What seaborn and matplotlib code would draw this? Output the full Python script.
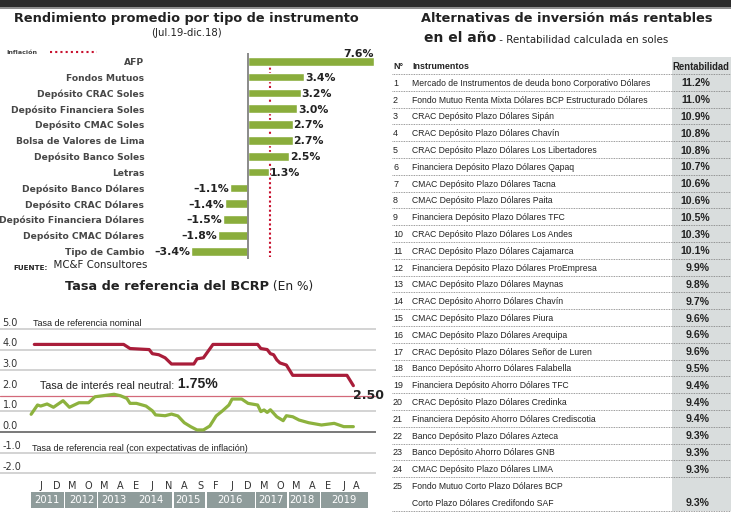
import numpy as np
import pandas as pd
import seaborn as sns
from matplotlib import pyplot as plt
from matplotlib import font_manager
from matplotlib.patches import Rectangle
from matplotlib.transforms import blended_transform_factory

# rendimiento promedio por tipo de instrumento (Jul.19-dic.18)
instrumentos = ['AFP', 'Fondos Mutuos', 'Depósito CRAC Soles', 'Depósito Financiera Soles',
                'Depósito CMAC Soles', 'Bolsa de Valores de Lima', 'Depósito Banco Soles',
                'Letras', 'Depósito Banco Dólares', 'Depósito CRAC Dólares',
                'Depósito Financiera Dólares', 'Depósito CMAC Dólares', 'Tipo de Cambio']
rendimiento = [7.6, 3.4, 3.2, 3.0, 2.7, 2.7, 2.5, 1.3, -1.1, -1.4, -1.5, -1.8, -3.4]
inflacion = 1.35

# tasa de referencia del BCRP, x = meses desde enero 2011
nominal_mes = [4, 32, 34, 40, 41, 43, 45, 47, 54, 55, 57, 60, 74, 75, 77, 78, 79, 80, 81,
               83, 84, 85, 102, 104]
nominal_tasa = [4.25, 4.25, 4.05, 4.0, 3.8, 3.75, 3.6, 3.3, 3.3, 3.55, 3.6, 4.25, 4.25,
                4.05, 4.0, 3.8, 3.75, 3.5, 3.35, 3.25, 3.0, 2.75, 2.75, 2.25]
real_mes = [3, 5, 6, 8, 10, 13, 15, 18, 21, 23, 25, 29, 31, 33, 34, 36, 39, 41, 42, 45, 47,
            49, 51, 53, 55, 57, 59, 61, 63, 65, 66, 69, 71, 74, 75, 76, 77, 78, 80, 82, 83,
            85, 87, 90, 94, 98, 101, 104]
real_tasa = [0.86, 1.31, 1.26, 1.36, 1.20, 1.52, 1.20, 1.42, 1.42, 1.71, 1.75, 1.83, 1.76,
             1.63, 1.39, 1.39, 1.26, 1.03, 0.83, 0.79, 0.87, 0.78, 0.45, 0.26, 0.10, 0.10,
             0.29, 0.78, 1.03, 1.31, 1.60, 1.60, 1.39, 1.31, 0.99, 1.07, 0.95, 1.08, 0.74,
             0.55, 0.79, 0.74, 0.58, 0.45, 0.34, 0.42, 0.26, 0.26]
tasa_neutral = 1.75
ultima_tasa = 2.50
eje_y = [5.0, 4.0, 3.0, 2.0, 1.0, 0.0, -1.0, -2.0]
tick_mes = [6, 11, 16, 21, 26, 31, 36, 41, 46, 51, 56, 61, 66, 71, 76, 81, 86, 91, 96, 101, 105]
tick_letras = ['J', 'D', 'M', 'O', 'M', 'A', 'E', 'J', 'N', 'A', 'S', 'F', 'J', 'D', 'M',
               'O', 'M', 'A', 'E', 'J', 'A']
anio_caja = [(2.9, 13.2), (13.6, 23.6), (23.9, 47.2), (47.7, 57.6), (58.0, 73.2),
             (73.6, 83.3), (83.8, 93.5), (93.9, 108.6)]
anios = ['2011', '2012', '2013', '2014', '2015', '2016', '2017', '2018', '2019']
anio_centro = [7.9, 18.9, 28.8, 40.5, 52.3, 65.3, 78.1, 87.8, 100.9]

# alternativas de inversion mas rentables en el año
ranking = list(range(1, 26))
alternativas = [
    'Mercado de Instrumentos de deuda bono Corporativo Dólares',
    'Fondo Mutuo Renta Mixta Dólares BCP Estructurado Dólares',
    'CRAC Depósito Plazo Dólares Sipán',
    'CRAC Depósito Plazo Dólares Chavín',
    'CRAC Depósito Plazo Dólares Los Libertadores',
    'Financiera Depósito Plazo Dólares Qapaq',
    'CMAC Depósito Plazo Dólares Tacna',
    'CMAC Depósito Plazo Dólares Paita',
    'Financiera Depósito Plazo Dólares TFC',
    'CRAC Depósito Plazo Dólares Los Andes',
    'CRAC Depósito Plazo Dólares Cajamarca',
    'Financiera Depósito Plazo Dólares ProEmpresa',
    'CMAC Depósito Plazo Dólares Maynas',
    'CRAC Depósito Ahorro Dólares Chavín',
    'CMAC Depósito Plazo Dólares Piura',
    'CMAC Depósito Plazo Dólares Arequipa',
    'CRAC Depósito Plazo Dólares Señor de Luren',
    'Banco Depósito Ahorro Dólares Falabella',
    'Financiera Depósito Ahorro Dólares TFC',
    'CRAC Depósito Plazo Dólares Credinka',
    'Financiera Depósito Ahorro Dólares Crediscotia',
    'Banco Depósito Plazo Dólares Azteca',
    'Banco Depósito Ahorro Dólares GNB',
    'CMAC Depósito Plazo Dólares LIMA',
    'Fondo Mutuo Corto Plazo Dólares BCP\nCorto Plazo Dólares Credifondo SAF',
]
rentabilidad = [11.2, 11.0, 10.9, 10.8, 10.8, 10.7, 10.6, 10.6, 10.5, 10.3, 10.1, 9.9, 9.8,
                9.7, 9.6, 9.6, 9.6, 9.5, 9.4, 9.4, 9.4, 9.3, 9.3, 9.3, 9.3]

GREEN = '#8aad3c'
RED = '#a91d3a'
INK = '#222222'

sns.set_theme(style='white')
plt.rcParams['font.family'] = ['DejaVu Sans']

installed = {f.name for f in font_manager.fontManager.ttflist}
if 'Liberation Sans Narrow' in installed:
    NARROW, NS = 'Liberation Sans Narrow', 1.0
else:
    NARROW, NS = 'Liberation Sans', 0.84

W, H = 731, 518
fig = plt.figure(figsize=(W / 100, H / 100), dpi=100)
fig.patch.set_facecolor('white')


def fbox(left, top, right, bottom):
    return [left / W, 1 - bottom / H, (right - left) / W, (bottom - top) / H]


# pixel overlay for frame, titles and the table
bg = fig.add_axes([0, 0, 1, 1], zorder=0)
bg.set_xlim(0, W)
bg.set_ylim(H, 0)
bg.axis('off')
bg.add_patch(Rectangle((0, 0), W, 6.7, color='#2b2b2b', lw=0))
bg.add_patch(Rectangle((0, 6.7), W, 2.6, color='#8e8e8e', lw=0))

# ---------------- rendimiento promedio ----------------
bg.text(186, 18.3, 'Rendimiento promedio por tipo de instrumento', ha='center', va='center',
        fontsize=9.3, fontweight='bold', color=INK)
bg.text(186.5, 33.3, '(Jul.19-dic.18)', ha='center', va='center', fontsize=7.3, color=INK)
bg.text(6, 52.3, 'Inflación', ha='left', va='center', fontsize=4.6, fontweight='bold',
        color='#444444')
bg.plot([50, 97], [52.3, 52.3], color='#c8102e', lw=1.5, ls=(0, (1, 1.5)))

ax1 = fig.add_axes(fbox(148.4, 53.4, 374.5, 259.2), zorder=1)
ax1.patch.set_alpha(0)
df_rend = pd.DataFrame({'instrumento': instrumentos, 'rendimiento': rendimiento})
sns.barplot(data=df_rend, x='rendimiento', y='instrumento', orient='h', color=GREEN,
            saturation=1, width=0.55, ax=ax1, zorder=2)
ax1.set_xlim(-6, 7.65)
ax1.set_ylim(12.5, -0.5)
ax1.set_xlabel('')
ax1.set_ylabel('')
ax1.set_xticks([])
ax1.tick_params(axis='y', length=0, pad=3, labelsize=6.6, labelcolor='#474747')
for lab in ax1.get_yticklabels():
    lab.set_fontweight('bold')
sns.despine(ax=ax1, left=True, bottom=True)
ax1.axvline(0, color='#8a8a8a', lw=1.4, zorder=3)
ax1.vlines(inflacion, 0.1, 12.35, colors='#c8102e', linestyles=(0, (1, 1.2)), lw=1.5,
           zorder=1)
for i, v in enumerate(rendimiento):
    txt = f'{v:.1f}%'.replace('-', '\u2013')
    if i == 0:
        ax1.text(v, i - 0.45, txt, ha='right', va='center', fontsize=7.8,
                 fontweight='bold', color=INK)
    elif v >= 0:
        ax1.text(v + 0.05, i + 0.05, txt, ha='left', va='center', fontsize=7.8,
                 fontweight='bold', color=INK)
    else:
        ax1.text(v - 0.05, i + 0.05, txt, ha='right', va='center', fontsize=7.8,
                 fontweight='bold', color=INK)

t = bg.text(13, 269.5, 'FUENTE:', ha='left', va='baseline', fontsize=5.2, fontweight='bold',
            color=INK)
bg.annotate('  MC&F Consultores', xy=(1, 0), xycoords=t, va='bottom', ha='left',
            fontsize=7.4, color=INK)

# ---------------- tasa de referencia BCRP ----------------
tt = bg.text(65, 286.7, 'Tasa de referencia del BCRP', ha='left', va='center', fontsize=9.3,
             fontweight='bold', color=INK)
bg.annotate(' (En %)', xy=(1, 0), xycoords=tt, va='bottom', ha='left', fontsize=8.8,
            color=INK)

ax2 = fig.add_axes(fbox(0, 316.6, 376, 479.4), zorder=1)
ax2.patch.set_alpha(0)
for v in [5, 4, 3, 1, -1, -2]:
    ax2.axhline(v, color='#c8c8c8', lw=1.1, zorder=0)
ax2.axhline(0, color='#6e6e6e', lw=1.3, zorder=0)
ax2.axhline(tasa_neutral, color='#d3697a', lw=0.9, zorder=0)
sns.lineplot(x=real_mes, y=real_tasa, color='#8db23e', lw=2.3, ax=ax2, zorder=2)
sns.lineplot(x=nominal_mes, y=nominal_tasa, color=RED, lw=2.3, ax=ax2, zorder=3)
ax2.set_xlim(-6.76, 111.1)
ax2.set_ylim(-2.3, 5.6)
sns.despine(ax=ax2, left=True, bottom=True)
ax2.set_yticks([])
ax2.set_xticks(tick_mes)
ax2.set_xticklabels(tick_letras)
ax2.tick_params(axis='x', length=0, pad=1.2, labelsize=7, labelcolor='#333333')

yax = blended_transform_factory(ax2.transAxes, ax2.transData)
for v in eje_y:
    ax2.text(0.007, v + 0.3, f'{v:.1f}', transform=yax, ha='left', va='center',
             fontsize=7, color='#333333')

ax2.text(3.7, 5.28, 'Tasa de referencia nominal', ha='left', va='center',
         family=NARROW, fontsize=7.7 * NS, color=INK)
tn = ax2.text(5.8, 2.23, 'Tasa de interés real neutral:', ha='left', va='center',
              family=NARROW, fontsize=9.2 * NS, color=INK)
ax2.annotate(f' {tasa_neutral:.2f}%', xy=(1, 0), xycoords=tn, ha='left', va='bottom',
             family=NARROW, fontsize=12 * NS, fontweight='bold', color=INK)
ax2.text(3.3, -0.79, 'Tasa de referencia real (con expectativas de inflación)', ha='left',
         va='center', family=NARROW, fontsize=7.7 * NS, color=INK)
ax2.text(nominal_mes[-1], tasa_neutral, f'{ultima_tasa:.2f}', ha='left', va='center',
         fontsize=9, fontweight='bold', color=INK, clip_on=False)

xax = blended_transform_factory(ax2.transData, ax2.transAxes)
for s, e in anio_caja:
    ax2.add_patch(Rectangle((s, -0.1775), e - s, 0.102, transform=xax, clip_on=False,
                            color='#8f9c9b', lw=0))
for c, a in zip(anio_centro, anios):
    ax2.text(c, -0.127, a, transform=xax, ha='center', va='center', fontsize=7.2,
             color='white')

# ---------------- alternativas de inversión ----------------
bg.text(567, 18.3, 'Alternativas de inversión más rentables', ha='center', va='center',
        fontsize=9.3, fontweight='bold', color=INK)
ta = bg.text(424, 38.3, 'en el año', ha='left', va='center', fontsize=10,
             fontweight='bold', color=INK)
bg.annotate(' - Rentabilidad calculada en soles', xy=(1, 0), xycoords=ta, ha='left',
            va='bottom', fontsize=7.4, color=INK)

bg.add_patch(Rectangle((672, 57), 59, 454, color='#d9dddd', lw=0))
dots = dict(color='#7a7a7a', lw=0.6, ls=(0, (1, 1)))
row_h = 16.8
bg.text(393, 66.7, 'N°', ha='left', va='center', family=NARROW, fontsize=7.6 * NS,
        fontweight='bold', color=INK)
bg.text(412, 66.7, 'Instrumentos', ha='left', va='center', family=NARROW,
        fontsize=7.6 * NS, fontweight='bold', color=INK)
bg.text(701, 66.7, 'Rentabilidad', ha='center', va='center', family=NARROW,
        fontsize=8.2 * NS, fontweight='bold', color=INK)
bg.plot([392, 731], [73.6, 73.6], **dots)
for i, (n, name, val) in enumerate(zip(ranking, alternativas, rentabilidad)):
    y = 83.3 + row_h * i
    lines = name.split('\n')
    bg.text(393, y, str(n), ha='left', va='center', family=NARROW, fontsize=7.6 * NS,
            color=INK)
    for k, ln in enumerate(lines):
        bg.text(412, y + k * 16.6, ln, ha='left', va='center', family=NARROW,
                fontsize=7.4 * NS, color=INK)
    y_last = y + (len(lines) - 1) * 16.6
    bg.text(710, y_last, f'{val:.1f}%', ha='right', va='center', family=NARROW,
            fontsize=9.0 * NS, fontweight='bold', color=INK)
    bg.plot([392, 731], [y_last + 7.4, y_last + 7.4], **dots)

fig.savefig('out.png', dpi=100, facecolor='white')
